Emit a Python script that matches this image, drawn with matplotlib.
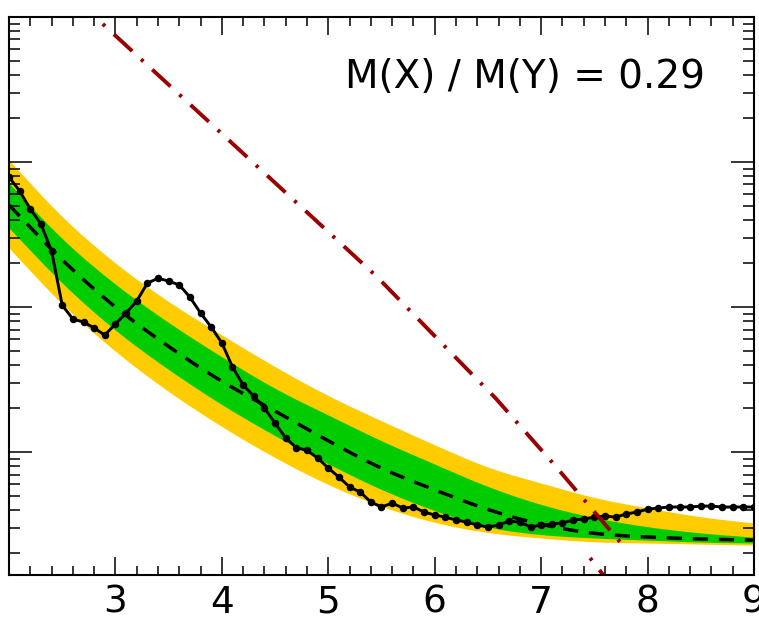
import numpy as np
import matplotlib.pyplot as plt
from matplotlib.ticker import LogLocator, MultipleLocator, NullFormatter

# observed limit, scanned every 0.1 in mass
mass_obs = np.linspace(2.0, 9.0, 71)
obs_limit = [
    0.0788, 0.0631, 0.0474, 0.0374, 0.0243, 0.0103, 0.00826, 0.00788, 0.00717, 0.00641,
    0.00764, 0.00909, 0.0110, 0.0146, 0.0158, 0.0151, 0.0142, 0.0117, 0.00909, 0.00728,
    0.00565, 0.00386, 0.00290, 0.00243, 0.00201, 0.00158, 0.00125, 0.00107, 0.00103, 0.000909,
    0.000776, 0.000672, 0.000574, 0.000530, 0.000452, 0.000418, 0.000445, 0.000411, 0.000418, 0.000386,
    0.000368, 0.000356, 0.000340, 0.000329, 0.000314, 0.000304, 0.000314, 0.000334, 0.000329, 0.000304,
    0.000314, 0.000319, 0.000324, 0.000340, 0.000345, 0.000356, 0.000362, 0.000356, 0.000374, 0.000386,
    0.000404, 0.000411, 0.000418, 0.000418, 0.000418, 0.000424, 0.000424, 0.000418, 0.000418, 0.000418,
    0.000418,
]

# expected limit and +-1/2 sigma bands
mass_exp = [2.0, 2.5, 3.0, 3.5, 4.0, 4.5, 5.0, 5.5, 6.0, 6.5, 7.0, 7.5, 8.0, 8.5, 9.0]
exp_median = [0.0505, 0.0208, 0.00984, 0.00530, 0.00304, 0.00192, 0.00119, 0.000764,
              0.000547, 0.000398, 0.000314, 0.000272, 0.000259, 0.000251, 0.000247]
exp_2up = [0.1032, 0.0411, 0.0198, 0.0108, 0.00641, 0.00386, 0.00243, 0.00164,
           0.00112, 0.000776, 0.000611, 0.000482, 0.000411, 0.000356, 0.000324]
exp_1up = [0.0716, 0.0290, 0.0142, 0.00776, 0.00452, 0.00272, 0.00180, 0.00119,
           0.000826, 0.000574, 0.000431, 0.000351, 0.000304, 0.000276, 0.000259]
exp_1dn = [0.0351, 0.0144, 0.00683, 0.00368, 0.00211, 0.00129, 0.000826, 0.000547,
           0.000392, 0.000299, 0.000268, 0.000255, 0.000247, 0.000239, 0.000236]
exp_2dn = [0.0255, 0.0103, 0.00489, 0.00259, 0.00149, 0.000909, 0.000592, 0.000418,
           0.000324, 0.000276, 0.000255, 0.000239, 0.000236, 0.000232, 0.000228]

# theory prediction (curve folds back at the high-mass end)
mass_th = [2.0, 2.81, 3.80, 5.46, 6.22, 6.57, 7.11, 7.71, 7.81, 7.46, 7.62]
xsec_th = [3.5, 1.0, 0.214, 0.0161, 0.00431, 0.00236, 0.00084, 0.000255, 0.000211, 0.000186, 0.000131]
fold = 9

ratio_label = 'M(X) / M(Y) = 0.29'


def smooth(x, y, n=4):
    # chaikin corner cutting in (x, log y), only for drawing
    px, py = np.asarray(x, float), np.log10(y)
    for _ in range(n):
        qx = np.column_stack([0.75 * px[:-1] + 0.25 * px[1:], 0.25 * px[:-1] + 0.75 * px[1:]]).ravel()
        qy = np.column_stack([0.75 * py[:-1] + 0.25 * py[1:], 0.25 * py[:-1] + 0.75 * py[1:]]).ravel()
        px = np.concatenate([[px[0]], qx, [px[-1]]])
        py = np.concatenate([[py[0]], qy, [py[-1]]])
    return px, 10 ** py


W, H = 759, 619
fig = plt.figure(figsize=(W / 100, H / 100), dpi=100)
ax = fig.add_axes([9 / W, (H - 575) / H, (754 - 9) / W, (575 - 17) / H])

sx, y2dn = smooth(mass_exp, exp_2dn)
_, y2up = smooth(mass_exp, exp_2up)
_, y1dn = smooth(mass_exp, exp_1dn)
_, y1up = smooth(mass_exp, exp_1up)
_, ymed = smooth(mass_exp, exp_median)

ax.fill_between(sx, y2dn, y2up, color='#ffcc00', lw=0)
ax.fill_between(sx, y1dn, y1up, color='#00cc00', lw=0)
ax.plot(sx, ymed, color='black', lw=2.5, dashes=(4.4, 3.1))
ax.plot(mass_obs, obs_limit, color='black', lw=2.1, marker='o', ms=4.4)

red = '#9b0000'
ax.plot(mass_th[:fold], xsec_th[:fold], color=red, lw=2.8, dashes=(6.4, 3.1, 0.8, 3.1))
ax.plot(mass_th[fold:], xsec_th[fold:], color=red, lw=2.8, linestyle=(9.5, (6.4, 3.1, 0.8, 3.1)))

ax.text((345 - 9) / 745, (575 - 88) / 558, ratio_label, transform=ax.transAxes,
        fontsize=28, va='baseline', ha='left', color='black')

ax.set_yscale('log')
ax.set_xlim(2, 9)
ax.set_ylim(1.42e-4, 1.0)

ax.xaxis.set_major_locator(MultipleLocator(1))
ax.xaxis.set_minor_locator(MultipleLocator(0.2))
ax.yaxis.set_major_locator(LogLocator(base=10))
ax.yaxis.set_minor_locator(LogLocator(base=10, subs=np.arange(2, 10)))
ax.yaxis.set_minor_formatter(NullFormatter())

ax.tick_params(which='both', direction='in', top=True, right=True, width=1.1)
ax.tick_params(axis='x', which='major', length=13, labelsize=27, pad=7)
ax.tick_params(axis='x', which='minor', length=6.5)
ax.tick_params(axis='y', which='major', length=16.5, labelleft=False)
ax.tick_params(axis='y', which='minor', length=8)
ax.set_xticks([3, 4, 5, 6, 7, 8, 9])

for s in ax.spines.values():
    s.set_linewidth(1.5)

fig.savefig('out.png', dpi=100)
